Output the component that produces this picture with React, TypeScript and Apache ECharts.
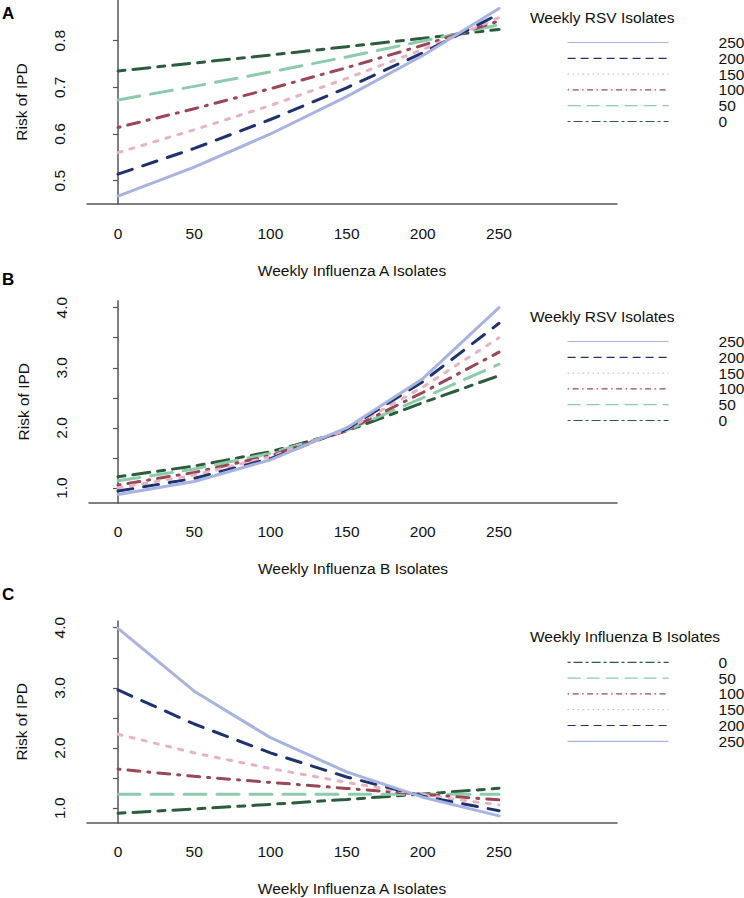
import React, { useEffect, useRef } from "react";
import * as echarts from "echarts";

// x positions (weekly isolates)
const xValues = [0, 50, 100, 150, 200, 250];
const xTickLabels = [0, 50, 100, 150, 200, 250];

// Panel A: Risk of IPD vs Weekly Influenza A Isolates, by Weekly RSV Isolates
const aRsv250 = [0.467, 0.529, 0.600, 0.680, 0.768, 0.869];
const aRsv200 = [0.514, 0.569, 0.631, 0.699, 0.774, 0.857];
const aRsv150 = [0.560, 0.609, 0.661, 0.719, 0.781, 0.849];
const aRsv100 = [0.614, 0.654, 0.697, 0.742, 0.790, 0.842];
const aRsv50 = [0.673, 0.702, 0.733, 0.765, 0.799, 0.834];
const aRsv0 = [0.735, 0.752, 0.769, 0.787, 0.805, 0.824];

// Panel B: Risk of IPD vs Weekly Influenza B Isolates, by Weekly RSV Isolates
const bRsv250 = [0.895, 1.11, 1.47, 2.0, 2.82, 4.0];
const bRsv200 = [0.95, 1.16, 1.49, 1.98, 2.77, 3.74];
const bRsv150 = [1.005, 1.216, 1.52, 1.97, 2.68, 3.5];
const bRsv100 = [1.05, 1.26, 1.54, 1.96, 2.59, 3.26];
const bRsv50 = [1.121, 1.316, 1.577, 1.96, 2.5, 3.06];
const bRsv0 = [1.188, 1.366, 1.604, 1.95, 2.42, 2.87];

// Panel C: Risk of IPD vs Weekly Influenza A Isolates, by Weekly Influenza B Isolates
const cFluB0 = [0.917, 0.988, 1.065, 1.147, 1.236, 1.332];
const cFluB50 = [1.233, 1.233, 1.233, 1.233, 1.233, 1.233];
const cFluB100 = [1.65, 1.53, 1.43, 1.33, 1.23, 1.14];
const cFluB150 = [2.23, 1.92, 1.66, 1.43, 1.22, 1.055];
const cFluB200 = [2.965, 2.4, 1.92, 1.52, 1.2, 0.96];
const cFluB250 = [3.99, 2.945, 2.173, 1.604, 1.184, 0.874];

const yTicksA = [0.5, 0.6, 0.7, 0.8];
const yTicksBC = [1.0, 1.5, 2.0, 2.5, 3.0, 3.5, 4.0];
const yLabelsBC = [1.0, 2.0, 3.0, 4.0];

const legendOrderAB = ["250", "200", "150", "100", "50", "0"];
const legendOrderC = ["0", "50", "100", "150", "200", "250"];

const FONT = "Liberation Sans";
const FS = 15.5;

const levelStyle: Record<string, { color: string; dash: any; legendDash: any }> = {
  "250": { color: "#a7b4e2", dash: "solid", legendDash: "solid" },
  "200": { color: "#1f3270", dash: [15, 11], legendDash: [8, 5] },
  "150": { color: "#e8b3c1", dash: [4, 8.5], legendDash: [1.5, 3.5] },
  "100": { color: "#9a4756", dash: [2, 8, 12, 8], legendDash: [1.5, 3.5, 6, 3.5] },
  "50": { color: "#8ccbac", dash: [22, 11], legendDash: [13, 6] },
  "0": { color: "#2c5d3b", dash: [7, 8, 17, 8], legendDash: [3, 3, 9, 3] },
};

const panels = [
  {
    key: "A",
    data: { "250": aRsv250, "200": aRsv200, "150": aRsv150, "100": aRsv100, "50": aRsv50, "0": aRsv0 } as Record<string, number[]>,
    xTitle: "Weekly Influenza A Isolates",
    legendTitle: "Weekly RSV Isolates",
    legendOrder: legendOrderAB,
  },
  {
    key: "B",
    data: { "250": bRsv250, "200": bRsv200, "150": bRsv150, "100": bRsv100, "50": bRsv50, "0": bRsv0 } as Record<string, number[]>,
    xTitle: "Weekly Influenza B Isolates",
    legendTitle: "Weekly RSV Isolates",
    legendOrder: legendOrderAB,
  },
  {
    key: "C",
    data: { "0": cFluB0, "50": cFluB50, "100": cFluB100, "150": cFluB150, "200": cFluB200, "250": cFluB250 } as Record<string, number[]>,
    xTitle: "Weekly Influenza A Isolates",
    legendTitle: "Weekly Influenza B Isolates",
    legendOrder: legendOrderC,
  },
];

// layout (pixels)
const layout = [
  { left: 87, top: 0, height: 204, yMin: 0.45, yMax: 0.887, letterTop: 3, legendTitleTop: 8, legendTop: 34.5 },
  { left: 89, top: 300.7, height: 202, yMin: 0.757, yMax: 4.116, letterTop: 269, legendTitleTop: 307.7, legendTop: 333.5 },
  { left: 87, top: 621, height: 201.7, yMin: 0.76, yMax: 4.111, letterTop: 584, legendTitleTop: 627.7, legendTop: 654.3 },
];
const PX_PER_X = (499 - 118) / 250;
const AXIS_RIGHT = 617;

export default function App() {
  const ref = useRef<HTMLDivElement>(null);
  useEffect(() => {
    if (!ref.current) return;
    const chart = echarts.init(ref.current, undefined, { renderer: "svg" });

    const grids: any[] = [];
    const xAxes: any[] = [];
    const yAxes: any[] = [];
    const series: any[] = [];
    const legends: any[] = [];
    const titles: any[] = [];

    panels.forEach((p, i) => {
      const L = layout[i];
      grids.push({ left: L.left, top: L.top, width: AXIS_RIGHT - L.left, height: L.height, containLabel: false });
      xAxes.push({
        type: "value",
        gridIndex: i,
        min: -(118 - L.left) / PX_PER_X,
        max: (AXIS_RIGHT - 118) / PX_PER_X,
        axisLine: { show: true, lineStyle: { color: "#555", width: 1.5 } },
        axisTick: { show: false },
        splitLine: { show: false },
        axisLabel: {
          customValues: xTickLabels,
          fontSize: FS,
          fontFamily: FONT,
          color: "#111",
          margin: 21,
          lineHeight: 16,
        },
        name: p.xTitle,
        nameLocation: "middle",
        nameGap: 58,
        nameTextStyle: { fontSize: FS, fontFamily: FONT, color: "#111", lineHeight: 16 },
      });
      const isA = i === 0;
      yAxes.push({
        type: "value",
        gridIndex: i,
        min: L.yMin,
        max: L.yMax,
        axisLine: { show: true, lineStyle: { color: "#555", width: 1.5 } },
        axisTick: {
          show: true,
          length: 5,
          customValues: isA ? yTicksA : yTicksBC,
          lineStyle: { color: "#555", width: 1.2 },
        },
        splitLine: { show: false },
        axisLabel: {
          customValues: isA ? yTicksA : yLabelsBC,
          rotate: 90,
          formatter: (v: number) => v.toFixed(1),
          fontSize: FS,
          fontFamily: FONT,
          color: "#111",
          margin: 20,
        },
        name: "Risk of IPD",
        nameLocation: "middle",
        nameGap: 58,
        nameTextStyle: { fontSize: FS, fontFamily: FONT, color: "#111" },
      });

      const drawOrder = ["0", "50", "100", "150", "200", "250"];
      drawOrder.forEach((lvl) => {
        const st = levelStyle[lvl];
        const vals = p.data[lvl];
        series.push({
          type: "line",
          name: `${p.key}|${lvl}`,
          xAxisIndex: i,
          yAxisIndex: i,
          symbol: "none",
          data: xValues.map((x, k) => [x, vals[k]]),
          itemStyle: { color: st.color },
          lineStyle: { color: st.color, width: 3, type: st.dash, cap: "round" },
        });
      });

      legends.push({
        orient: "vertical",
        left: 567,
        top: L.legendTop,
        padding: 0,
        itemWidth: 101,
        itemHeight: 14,
        itemGap: -0.2,
        selectedMode: false,
        formatter: (name: string) => name.split("|")[1],
        textStyle: { fontSize: FS, fontFamily: FONT, color: "#111", lineHeight: 14, padding: [0, 0, 0, 45] },
        data: p.legendOrder.map((lvl) => ({
          name: `${p.key}|${lvl}`,
          itemStyle: { opacity: 0 },
          lineStyle: { color: levelStyle[lvl].color, width: 1.2, type: levelStyle[lvl].legendDash, cap: "butt", opacity: 1 },
        })),
      });

      titles.push({
        text: p.key,
        left: 2,
        top: L.letterTop,
        padding: 0,
        textStyle: { fontSize: 17, fontWeight: "bold", fontFamily: FONT, color: "#000", lineHeight: 20 },
      });
      titles.push({
        text: p.legendTitle,
        left: 530,
        top: L.legendTitleTop,
        padding: 0,
        textStyle: { fontSize: FS, fontWeight: "normal", fontFamily: FONT, color: "#111", lineHeight: 18 },
      });
    });

    chart.setOption({
      animation: false,
      backgroundColor: "#fff",
      title: titles,
      grid: grids,
      xAxis: xAxes,
      yAxis: yAxes,
      legend: legends,
      series,
    });
    return () => chart.dispose();
  }, []);

  return <div ref={ref} style={{ position: "absolute", left: 0, top: 0, width: 744, height: 898 }} />;
}
